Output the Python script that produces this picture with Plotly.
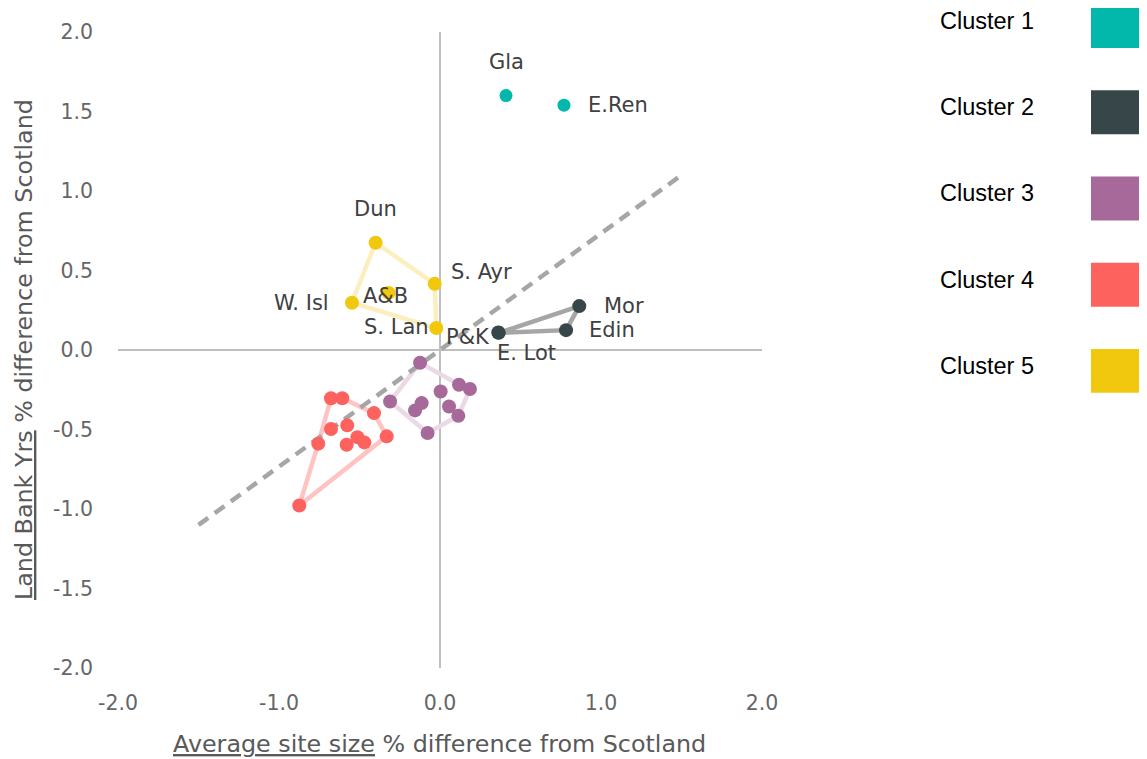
import plotly.graph_objects as go

# ---------------- data ----------------
cluster_names = ["Cluster 1", "Cluster 2", "Cluster 3", "Cluster 4", "Cluster 5"]
cluster_colors = ["#01B8AA", "#374649", "#A66999", "#FD625E", "#F2C80F"]
hull_colors = [None, "#A6A6A6", "#E9DAE5", "#FFC3C2", "#FBEFC0"]

c1_labels = ["Gla", "E.Ren"]
c1_x = [0.41, 0.77]
c1_y = [1.60, 1.54]

c2_labels = ["E. Lot", "P&K", "Mor", "Edin"]
c2_x = [0.365, 0.362, 0.865, 0.783]
c2_y = [0.108, 0.110, 0.276, 0.125]
c2_hull = [0, 2, 3, 0]

c3_labels = [""] * 10
c3_x = [-0.124, -0.31, -0.155, -0.114, -0.077, 0.004, 0.056, 0.114, 0.118, 0.186]
c3_y = [-0.08, -0.324, -0.38, -0.334, -0.522, -0.261, -0.355, -0.414, -0.219, -0.245]
c3_hull = [0, 8, 9, 7, 4, 1, 0]

c4_labels = [""] * 11
c4_x = [-0.677, -0.607, -0.41, -0.331, -0.677, -0.576, -0.756, -0.58, -0.513, -0.47, -0.874]
c4_y = [-0.303, -0.303, -0.397, -0.543, -0.497, -0.474, -0.589, -0.596, -0.548, -0.581, -0.978]
c4_hull = [10, 6, 0, 1, 2, 3, 10]

c5_labels = ["Dun", "S. Ayr", "S. Lan", "W. Isl", "A&B"]
c5_x = [-0.40, -0.033, -0.023, -0.547, -0.319]
c5_y = [0.675, 0.416, 0.138, 0.297, 0.359]
c5_hull = [0, 1, 2, 3, 0]

diag_x = [-1.5, 1.5]
diag_y = [-1.1, 1.1]

x_ticks = [-2.0, -1.0, 0.0, 1.0, 2.0]
x_ticktext = ["-2.0", "-1.0", "0.0", "1.0", "2.0"]
y_ticks = [-2.0, -1.5, -1.0, -0.5, 0.0, 0.5, 1.0, 1.5, 2.0]
y_ticktext = ["-2.0", "-1.5", "-1.0", "-0.5", "0.0", "0.5", "1.0", "1.5", "2.0"]

x_title = "<u>Average site size</u> % difference from Scotland"
y_title = "<u>Land Bank Yrs</u> % difference from Scotland"

# label placement (pixel offsets, anchor)
label_style = {
    "Gla": (0, 34, "center"),
    "E.Ren": (22, 0, "left"),
    "Dun": (0, 34, "center"),
    "S. Ayr": (14, 12, "left"),
    "W. Isl": (-21, 0, "right"),
    "A&B": (-3, -3, "center"),
    "S. Lan": (-5, 1, "right"),
    "P&K": (-6, -4, "right"),
    "E. Lot": (-4, -20, "left"),
    "Mor": (23, 0, "left"),
    "Edin": (21, 0, "left"),
}

# ---------------- figure ----------------
OFF = 8  # page body margin
W, H = 1147 - OFF, 759 - OFF
ML, MT = 118 - OFF, 30 - OFF
MR = W - (762 - OFF)
MB = H - (668 - OFF)
PW, PH = W - ML - MR, H - MT - MB


def px_x(p):
    return (p - OFF - ML) / PW


def px_y(p):
    return (H - MB - (p - OFF)) / PH


fig = go.Figure()

clusters = [
    (c1_x, c1_y, c1_labels, None),
    (c2_x, c2_y, c2_labels, c2_hull),
    (c3_x, c3_y, c3_labels, c3_hull),
    (c4_x, c4_y, c4_labels, c4_hull),
    (c5_x, c5_y, c5_labels, c5_hull),
]

# hulls first
for i, (xs, ys, labs, hull) in enumerate(clusters):
    if hull is None:
        continue
    fig.add_trace(go.Scatter(
        x=[xs[k] for k in hull], y=[ys[k] for k in hull],
        mode="lines", line=dict(color=hull_colors[i], width=4.5),
        hoverinfo="skip", showlegend=False))

# dashed reference line
fig.add_trace(go.Scatter(
    x=diag_x, y=diag_y, mode="lines",
    line=dict(color="#A6A6A6", width=4.5, dash="12px,8px"),
    hoverinfo="skip", showlegend=False))

# points
for i, (xs, ys, labs, hull) in enumerate(clusters):
    fig.add_trace(go.Scatter(
        x=xs, y=ys, mode="markers", name=cluster_names[i],
        marker=dict(color=cluster_colors[i], size=14 if i else 13),
        text=labs, showlegend=False))

# labels
annotations = []
for xs, ys, labs, hull in clusters:
    for xv, yv, lab in zip(xs, ys, labs):
        if not lab:
            continue
        dx, dy, anc = label_style[lab]
        annotations.append(dict(
            x=xv, y=yv, xref="x", yref="y", text=lab, showarrow=False,
            xanchor=anc, yanchor="middle", xshift=dx, yshift=dy,
            font=dict(family="DejaVu Sans", size=21, color="#404040")))

# axis titles
annotations.append(dict(
    xref="paper", yref="paper", x=px_x(439), y=px_y(744),
    text=x_title, showarrow=False, xanchor="center", yanchor="middle",
    font=dict(family="DejaVu Sans", size=23.8, color="#595959")))
annotations.append(dict(
    xref="paper", yref="paper", x=px_x(24), y=px_y(349),
    text=y_title, showarrow=False, xanchor="center", yanchor="middle", textangle=-90,
    font=dict(family="DejaVu Sans", size=23.8, color="#595959")))

# legend (manual)
shapes = []
for i, name in enumerate(cluster_names):
    top = 2 + 86.5 * i
    shapes.append(dict(type="rect", xref="paper", yref="paper",
                       x0=px_x(1091), x1=px_x(1147),
                       y0=px_y(top + 44), y1=px_y(top),
                       fillcolor=cluster_colors[i], line=dict(width=0), layer="above"))
    annotations.append(dict(
        xref="paper", yref="paper", x=px_x(938), y=px_y(top + 17),
        text=name, showarrow=False, xanchor="left", yanchor="middle",
        font=dict(family="Liberation Sans", size=23.5, color="#000000")))

tick_font = dict(family="DejaVu Sans", size=20.5, color="#666666")
axis_common = dict(
    showgrid=False, zeroline=True, zerolinecolor="#BFBFBF", zerolinewidth=1.5,
    showline=False, ticks="", tickfont=tick_font,
)

fig.update_layout(
    width=W, height=H,
    margin=dict(l=ML, r=MR, t=MT, b=MB, pad=0),
    paper_bgcolor="white", plot_bgcolor="white",
    xaxis=dict(range=[-2, 2], tickvals=x_ticks, ticktext=x_ticktext,
               ticklabelstandoff=20, **axis_common),
    yaxis=dict(range=[-2, 2], tickvals=y_ticks, ticktext=y_ticktext,
               ticklabelstandoff=24, **axis_common),
    annotations=annotations, shapes=shapes,
    showlegend=False, hovermode=False,
)

fig.write_html("out.html")
